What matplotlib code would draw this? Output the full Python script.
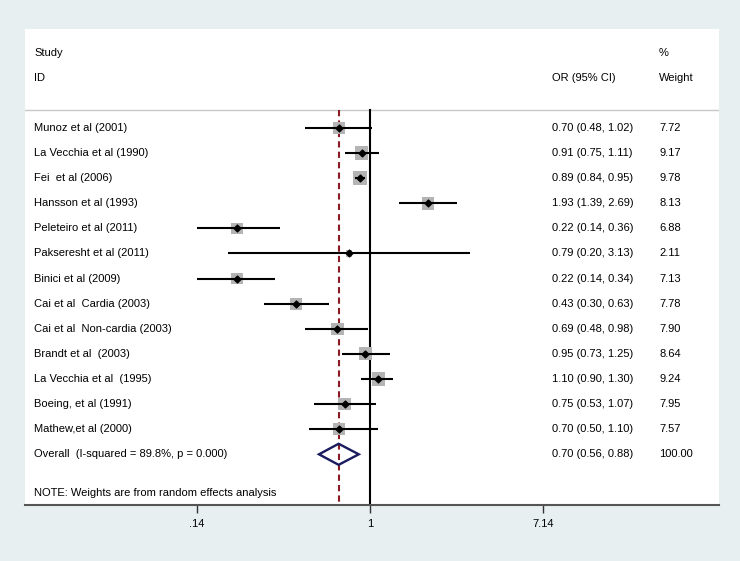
import numpy as np
import matplotlib
matplotlib.use("Agg")
import matplotlib.pyplot as plt
from matplotlib.transforms import blended_transform_factory

plt.rcParams['font.family'] = ['Liberation Sans', 'DejaVu Sans']

studies = ["Munoz et al (2001)", "La Vecchia et al (1990)", "Fei  et al (2006)",
           "Hansson et al (1993)", "Peleteiro et al (2011)", "Pakseresht et al (2011)",
           "Binici et al (2009)", "Cai et al  Cardia (2003)", "Cai et al  Non-cardia (2003)",
           "Brandt et al  (2003)", "La Vecchia et al  (1995)", "Boeing, et al (1991)",
           "Mathew,et al (2000)"]
odds = [0.70, 0.91, 0.89, 1.93, 0.22, 0.79, 0.22, 0.43, 0.69, 0.95, 1.10, 0.75, 0.70]
ci_low = [0.48, 0.75, 0.84, 1.39, 0.14, 0.20, 0.14, 0.30, 0.48, 0.73, 0.90, 0.53, 0.50]
ci_high = [1.02, 1.11, 0.95, 2.69, 0.36, 3.13, 0.34, 0.63, 0.98, 1.25, 1.30, 1.07, 1.10]
weights = [7.72, 9.17, 9.78, 8.13, 6.88, 2.11, 7.13, 7.78, 7.90, 8.64, 9.24, 7.95, 7.57]

overall_label = "Overall  (I-squared = 89.8%, p = 0.000)"
overall = (0.70, 0.56, 0.88)
overall_weight = 100.00

xticks = [0.14, 1, 7.14]
xticklabels = [".14", "1", "7.14"]

W, H = 740, 561
fig = plt.figure(figsize=(W / 100, H / 100), dpi=100, facecolor="#e8eff1")

# white panel in pixels
left, right, top, bottom = 25, 719, 29, 505
ax = fig.add_axes([left / W, (H - bottom) / H, (right - left) / W, (bottom - top) / H])
ax.set_facecolor("white")

# log x scale: 1 at px 370, 88 px per ln unit
x0, k = 370, 88.0
ax.set_xscale("log")
ax.set_xlim(np.exp((left - x0) / k), np.exp((right - x0) / k))

# rows: first row at px 128, step 25.1
r0, step = 128, 25.1
ax.set_ylim((bottom - r0) / step, (top - r0) / step)

n = len(studies)
rows = np.arange(n)
fs = 8

# reference lines
y_line = (110 - r0) / step
ax.plot([1, 1], [y_line, ax.get_ylim()[0]], color="black", lw=1.5, zorder=2)
ax.plot([overall[0], overall[0]], [y_line, ax.get_ylim()[0]], color="#8b1a24",
        lw=1.5, ls=(0, (3, 2)), zorder=2)
ax.axhline(y_line, color="#c8c8c8", lw=1.0, zorder=1)

# boxes, CI lines, points
ax.scatter(odds, rows, s=np.array(weights) * 10.0, marker="s", color="#b4b4b4",
           edgecolors="none", zorder=3)
ax.hlines(rows, ci_low, ci_high, color="black", lw=1.5, zorder=4)
ax.scatter(odds, rows, s=12, marker="D", color="black", zorder=5)

# overall diamond
yo = n
dh = 0.42
ax.fill([overall[1], overall[0], overall[2], overall[0], overall[1]],
        [yo, yo - dh, yo, yo + dh, yo], facecolor="none", edgecolor="#1a1a5e",
        lw=1.7, zorder=5)

# text columns
trans = blended_transform_factory(fig.transFigure, ax.transData)
def px(x):
    return x / W

ax.text(px(34), -3, "Study", transform=trans, fontsize=fs, va="center")
ax.text(px(34), -2, "ID", transform=trans, fontsize=fs, va="center")
ax.text(px(552), -2, "OR (95% CI)", transform=trans, fontsize=fs, va="center")
ax.text(px(659), -3, "%", transform=trans, fontsize=fs, va="center")
ax.text(px(659), -2, "Weight", transform=trans, fontsize=fs, va="center")

for i in range(n):
    ax.text(px(34), i, studies[i], transform=trans, fontsize=fs, va="center")
    ax.text(px(552), i, f"{odds[i]:.2f} ({ci_low[i]:.2f}, {ci_high[i]:.2f})",
            transform=trans, fontsize=fs, va="center")
    ax.text(px(659), i, f"{weights[i]:.2f}", transform=trans, fontsize=fs, va="center")

ax.text(px(34), yo, overall_label, transform=trans, fontsize=fs, va="center")
ax.text(px(552), yo, f"{overall[0]:.2f} ({overall[1]:.2f}, {overall[2]:.2f})",
        transform=trans, fontsize=fs, va="center")
ax.text(px(659), yo, f"{overall_weight:.2f}", transform=trans, fontsize=fs, va="center")
ax.text(px(34), (493 - r0) / step, "NOTE: Weights are from random effects analysis",
        transform=trans, fontsize=fs, va="center")

# axes styling
for s in ["top", "right", "left"]:
    ax.spines[s].set_visible(False)
ax.spines["bottom"].set_color("#555555")
ax.spines["bottom"].set_linewidth(1.5)
ax.set_yticks([])
ax.set_xticks(xticks)
ax.set_xticklabels(xticklabels, fontsize=fs)
ax.xaxis.set_minor_locator(matplotlib.ticker.NullLocator())
ax.tick_params(axis="x", direction="out", length=6, width=1, color="#333333", pad=4)

fig.savefig("out.png", dpi=100, facecolor=fig.get_facecolor())
